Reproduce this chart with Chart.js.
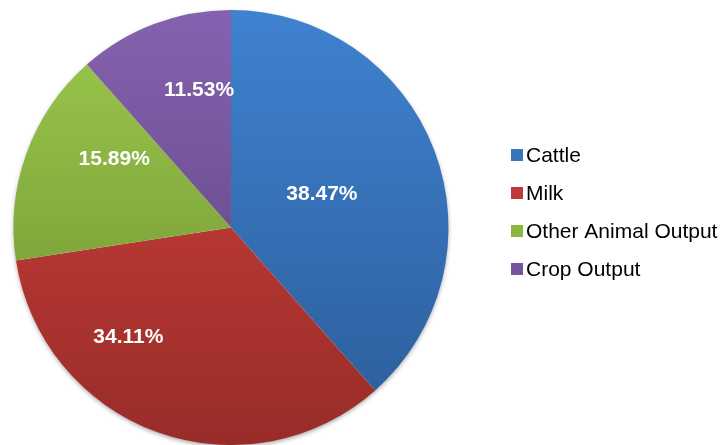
<!DOCTYPE html>
<html>
<head>
<meta charset="utf-8">
<script src="https://cdn.jsdelivr.net/npm/chart.js@4.4.1/dist/chart.umd.min.js"></script>
<style>
  html, body { margin: 0; padding: 0; background: #ffffff; }
  #wrap { width: 724px; height: 445px; position: relative; }
</style>
</head>
<body>
<div id="wrap"><canvas id="pieChart"></canvas></div>
<script>
// Daten
const categories = ["Cattle", "Milk", "Other Animal Output", "Crop Output"];
const shares = [38.47, 34.11, 15.89, 11.53];
const valueLabels = ["38.47%", "34.11%", "15.89%", "11.53%"];

// Farben (oben hell, unten dunkel)
const topColors = ["#3f82d0", "#d4423b", "#9dca4c", "#8562b0"];
const bottomColors = ["#2b5c98", "#982c29", "#6c8c31", "#5a3f76"];
const legendColors = ["#3a74bd", "#c0393a", "#8cb640", "#7654a0"];

// Label-Position relativ zum Mittelpunkt (in Radius-Einheiten)
const labelOffsets = [[0.418, -0.151], [-0.472, 0.505], [-0.537, -0.312], [-0.147, -0.633]];

document.addEventListener("DOMContentLoaded", () => {
  const canvas = document.getElementById("pieChart");
  const ctx = canvas.getContext("2d");

  // Verlauf pro Segment
  const fillFor = (context) => {
    const chart = context.chart;
    const area = chart.chartArea;
    if (!area) return topColors[context.dataIndex];
    const g = chart.ctx.createLinearGradient(0, area.top, 0, area.bottom);
    g.addColorStop(0, topColors[context.dataIndex]);
    g.addColorStop(1, bottomColors[context.dataIndex]);
    return g;
  };

  // Schatten unter dem Kuchen
  const shadowPlugin = {
    id: "pieShadow",
    beforeDatasetsDraw(chart) {
      const arc = chart.getDatasetMeta(0).data[0];
      if (!arc) return;
      const c = chart.ctx;
      c.save();
      c.beginPath();
      c.arc(arc.x, arc.y, arc.outerRadius - 1, 0, Math.PI * 2);
      c.fillStyle = "#ffffff";
      c.shadowColor = "rgba(0,0,0,0.45)";
      c.shadowBlur = 5;
      c.shadowOffsetY = 2;
      c.fill();
      c.restore();
    }
  };

  // Prozent-Labels in den Segmenten
  const labelPlugin = {
    id: "sliceLabels",
    afterDatasetsDraw(chart) {
      const meta = chart.getDatasetMeta(0);
      const c = chart.ctx;
      c.save();
      c.font = "bold 21px 'Liberation Sans', Arial, sans-serif";
      c.fillStyle = "#ffffff";
      c.textAlign = "center";
      c.textBaseline = "middle";
      meta.data.forEach((arc, i) => {
        const r = arc.outerRadius;
        c.fillText(valueLabels[i], arc.x + labelOffsets[i][0] * r, arc.y + labelOffsets[i][1] * r);
      });
      c.restore();
    }
  };

  // Legende rechts
  const legendPlugin = {
    id: "sideLegend",
    afterDraw(chart) {
      const c = chart.ctx;
      c.save();
      c.font = "21px 'Liberation Sans', Arial, sans-serif";
      c.textBaseline = "middle";
      c.textAlign = "left";
      categories.forEach((name, i) => {
        const y = 155 + i * 38;
        c.fillStyle = legendColors[i];
        c.fillRect(511, y - 6, 12, 12);
        c.fillStyle = "#000000";
        c.fillText(name, 526, y + 1);
      });
      c.restore();
    }
  };

  new Chart(ctx, {
    type: "pie",
    data: {
      labels: categories,
      datasets: [{
        data: shares,
        backgroundColor: fillFor,
        borderWidth: 0,
        hoverOffset: 0
      }]
    },
    options: {
      responsive: true,
      maintainAspectRatio: false,
      animation: false,
      layout: { padding: { top: 10, right: 275, bottom: 0, left: 13 } },
      plugins: {
        legend: { display: false },
        tooltip: { enabled: false }
      }
    },
    plugins: [shadowPlugin, labelPlugin, legendPlugin]
  });
});
</script>
</body>
</html>
